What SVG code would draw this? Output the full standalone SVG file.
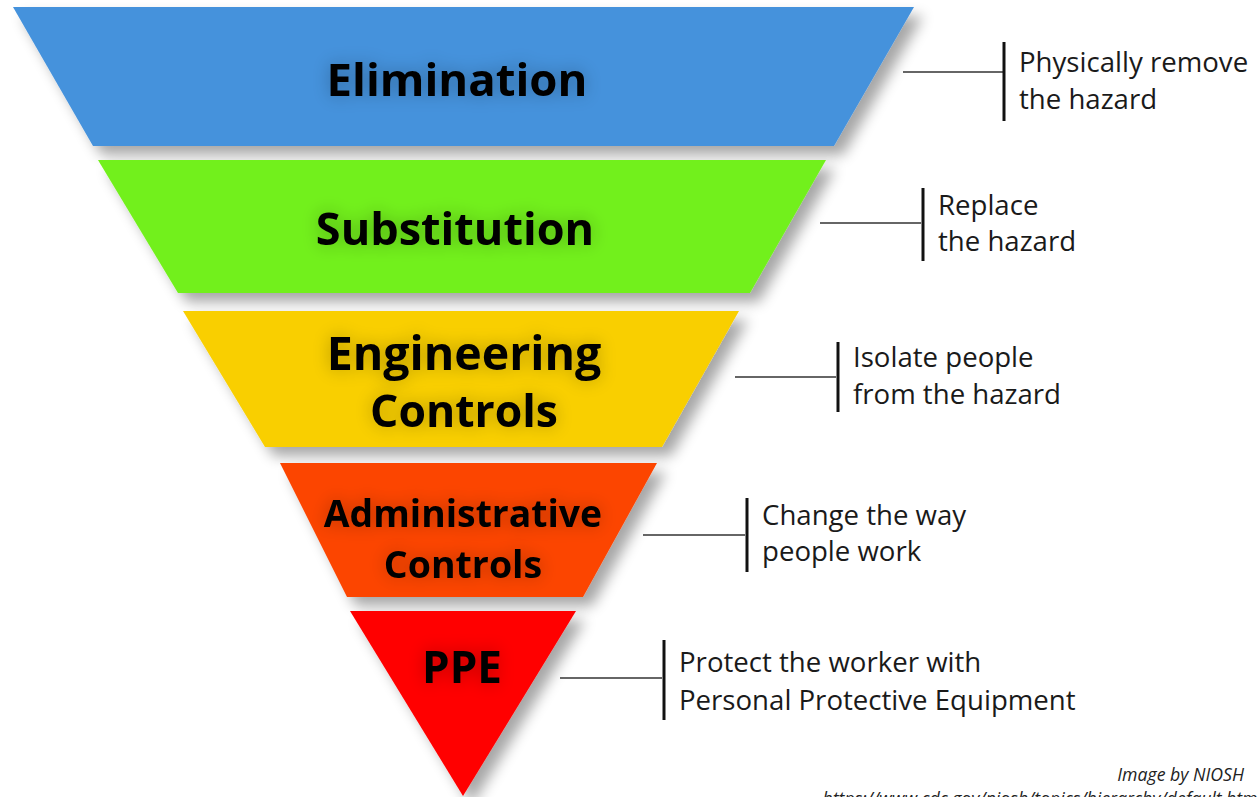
<svg xmlns="http://www.w3.org/2000/svg" width="1259" height="797" viewBox="0 0 1259 797">
<defs>
<filter id="shadow" x="-10%" y="-10%" width="130%" height="140%">
<feGaussianBlur in="SourceAlpha" stdDeviation="7"/>
<feOffset dx="9" dy="9" result="b"/>
<feComponentTransfer><feFuncA type="linear" slope="0.35"/></feComponentTransfer>
<feMerge><feMergeNode/><feMergeNode in="SourceGraphic"/></feMerge>
</filter>
<filter id="glow" x="-20%" y="-40%" width="140%" height="180%">
<feGaussianBlur in="SourceAlpha" stdDeviation="9"/>
<feComponentTransfer><feFuncA type="linear" slope="0.28"/></feComponentTransfer>
<feMerge><feMergeNode/><feMergeNode in="SourceGraphic"/></feMerge>
</filter>
</defs>
<style>
.lbl{font-family:"Open Sans","Noto Sans",sans-serif;font-weight:700;fill:#000;text-anchor:middle;filter:url(#glow)}
.desc{font-family:"Open Sans",Lato,sans-serif;font-size:27.6px;fill:#1a1a1a}
.note{font-family:"Open Sans","Liberation Sans",sans-serif;font-style:italic;font-size:17.7px;fill:#222}
.h{stroke:#333;stroke-width:1.5;fill:none}
.v{stroke:#111;stroke-width:3;fill:none}
</style>
<rect width="1259" height="797" fill="#fff"/>
<g id="elimination">
<polygon points="13,7 914,7 834,146 93,146" fill="#4592DC" filter="url(#shadow)"/>
<text class="lbl" x="457" y="96" font-size="45.5">Elimination</text>
</g>
<g id="substitution">
<polygon points="98,160 826,160 750,293 178,293" fill="#72F01C" filter="url(#shadow)"/>
<text class="lbl" x="455" y="245" font-size="45">Substitution</text>
</g>
<g id="engineering">
<polygon points="183,311 739,311 662,447 265,447" fill="#F9CF00" filter="url(#shadow)"/>
<text class="lbl" x="464" y="370" font-size="46.5">Engineering</text>
<text class="lbl" x="464" y="427" font-size="44.5">Controls</text>
</g>
<g id="administrative">
<polygon points="280,463 657,463 583,597 347,597" fill="#FC4400" filter="url(#shadow)"/>
<text class="lbl" x="463" y="527" font-size="37.3">Administrative</text>
<text class="lbl" x="463" y="578" font-size="37.5">Controls</text>
</g>
<g id="ppe">
<polygon points="350,611 576,611 463,796" fill="#FF0000" filter="url(#shadow)"/>
<text class="lbl" x="462" y="683" font-size="44">PPE</text>
</g>
<g id="connectors">
<line class="h" x1="903" y1="72" x2="1003" y2="72"/>
<line class="v" x1="1004" y1="42" x2="1004" y2="121"/>
<line class="h" x1="820" y1="223" x2="921" y2="223"/>
<line class="v" x1="923" y1="188" x2="923" y2="261"/>
<line class="h" x1="735" y1="377" x2="836" y2="377"/>
<line class="v" x1="838" y1="342" x2="838" y2="412"/>
<line class="h" x1="643" y1="535" x2="745" y2="535"/>
<line class="v" x1="747" y1="498" x2="747" y2="572"/>
<line class="h" x1="560" y1="678" x2="662" y2="678"/>
<line class="v" x1="664" y1="640" x2="664" y2="720"/>
</g>
<g id="descriptions">
<text class="desc" x="1019" y="72">Physically remove</text>
<text class="desc" x="1019" y="109">the hazard</text>
<text class="desc" x="938" y="215">Replace</text>
<text class="desc" x="938" y="251">the hazard</text>
<text class="desc" x="853" y="367">Isolate people</text>
<text class="desc" x="853" y="404">from the hazard</text>
<text class="desc" x="762" y="525">Change the way</text>
<text class="desc" x="762" y="561">people work</text>
<text class="desc" x="679" y="672">Protect the worker with</text>
<text class="desc" x="679" y="710">Personal Protective Equipment</text>
</g>
<g id="credit">
<text class="note" x="1244" y="781" text-anchor="end">Image by NIOSH</text>
<text class="note" x="1262" y="805" text-anchor="end">https://www.cdc.gov/niosh/topics/hierarchy/default.html</text>
</g>
</svg>
